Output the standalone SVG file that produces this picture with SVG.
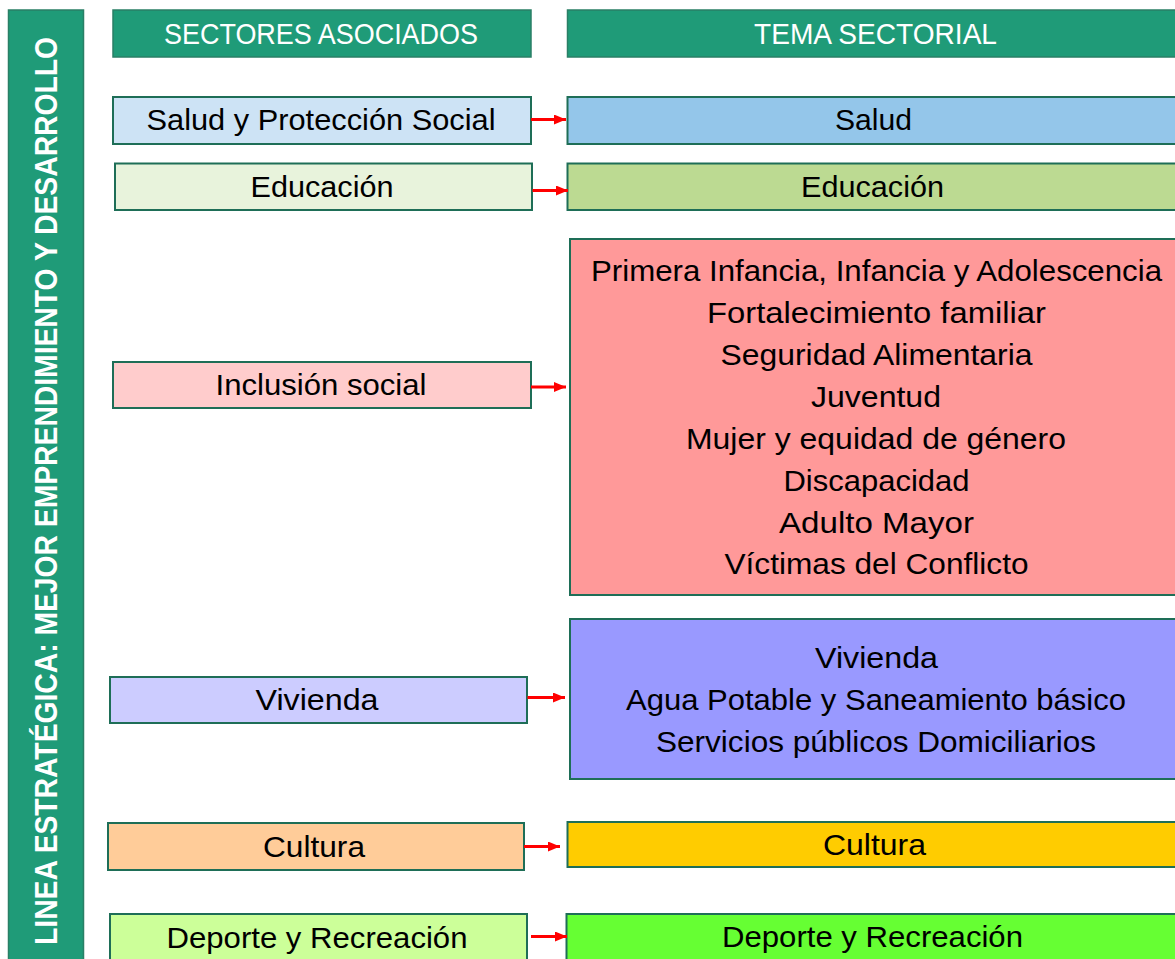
<svg xmlns="http://www.w3.org/2000/svg" width="1175" height="959" viewBox="0 0 1175 959">
<defs>
<style>
.hdr{fill:#1f9b78;stroke:#2a7f66;stroke-width:1.5}
.box{stroke:#1e6e57;stroke-width:2}
.t{font-family:"Liberation Sans",Arial,sans-serif;font-size:29px;fill:#000;text-anchor:middle}
.ht{font-family:"Liberation Sans",Arial,sans-serif;font-size:29px;fill:#fff;text-anchor:middle}
.bt{font-family:"Liberation Sans",Arial,sans-serif;font-size:28px;font-weight:bold;fill:#fff;text-anchor:middle}
.arr{stroke:#ff0000;stroke-width:3;fill:none}
</style>
<marker id="ah" markerWidth="12" markerHeight="10" refX="12" refY="5" orient="auto" markerUnits="userSpaceOnUse">
<path d="M0,0 L12,5 L0,10 Z" fill="#ff0000"/>
</marker>
</defs>
<rect width="1175" height="959" fill="#ffffff"/>

<g id="linea">
<rect class="hdr" x="8.5" y="10" width="75" height="960"/>
<text class="bt" transform="translate(57,491) rotate(-90) scale(1,1.14)" x="0" y="0" textLength="908" lengthAdjust="spacingAndGlyphs">LINEA ESTRATÉGICA: MEJOR EMPRENDIMIENTO Y DESARROLLO</text>
</g>

<g id="hdr-sectores">
<rect class="hdr" x="113" y="10" width="418" height="47"/>
<text class="ht" x="321" y="44" textLength="314" lengthAdjust="spacingAndGlyphs">SECTORES ASOCIADOS</text>
</g>
<g id="hdr-tema">
<rect class="hdr" x="567.5" y="10" width="620" height="47"/>
<text class="ht" x="875.5" y="44" textLength="243" lengthAdjust="spacingAndGlyphs">TEMA SECTORIAL</text>
</g>

<g id="s-salud">
<rect class="box" x="113" y="97" width="418" height="47" fill="#cde3f5"/>
<text class="t" x="321" y="130" textLength="349" lengthAdjust="spacingAndGlyphs">Salud y Protección Social</text>
</g>
<g id="t-salud">
<rect class="box" x="567.5" y="97" width="620" height="47" fill="#94c6ea"/>
<text class="t" x="873.5" y="130" textLength="77" lengthAdjust="spacingAndGlyphs">Salud</text>
</g>

<g id="s-educacion">
<rect class="box" x="115" y="163.5" width="417" height="46.5" fill="#e8f3dc"/>
<text class="t" x="322" y="197" textLength="143" lengthAdjust="spacingAndGlyphs">Educación</text>
</g>
<g id="t-educacion">
<rect class="box" x="567.5" y="163.5" width="620" height="46.5" fill="#bcda92"/>
<text class="t" x="872.5" y="197" textLength="143" lengthAdjust="spacingAndGlyphs">Educación</text>
</g>

<g id="s-inclusion">
<rect class="box" x="113" y="362" width="418" height="46" fill="#ffcccc"/>
<text class="t" x="321" y="395" textLength="211" lengthAdjust="spacingAndGlyphs">Inclusión social</text>
</g>
<g id="t-inclusion">
<rect class="box" x="570" y="239" width="620" height="356" fill="#ff9999"/>
<text class="t" x="876.5" y="281" textLength="571" lengthAdjust="spacingAndGlyphs">Primera Infancia, Infancia y Adolescencia</text>
<text class="t" x="876.5" y="323" textLength="339" lengthAdjust="spacingAndGlyphs">Fortalecimiento familiar</text>
<text class="t" x="876.5" y="365" textLength="312" lengthAdjust="spacingAndGlyphs">Seguridad Alimentaria</text>
<text class="t" x="876" y="407" textLength="130" lengthAdjust="spacingAndGlyphs">Juventud</text>
<text class="t" x="876" y="449" textLength="380" lengthAdjust="spacingAndGlyphs">Mujer y equidad de género</text>
<text class="t" x="876.5" y="491" textLength="186" lengthAdjust="spacingAndGlyphs">Discapacidad</text>
<text class="t" x="876.5" y="533" textLength="195" lengthAdjust="spacingAndGlyphs">Adulto Mayor</text>
<text class="t" x="876.5" y="574" textLength="304" lengthAdjust="spacingAndGlyphs">Víctimas del Conflicto</text>
</g>

<g id="s-vivienda">
<rect class="box" x="110" y="677" width="417" height="46" fill="#ccccff"/>
<text class="t" x="317" y="710" textLength="123" lengthAdjust="spacingAndGlyphs">Vivienda</text>
</g>
<g id="t-vivienda">
<rect class="box" x="570" y="619" width="620" height="160" fill="#9999ff"/>
<text class="t" x="876.5" y="668" textLength="123" lengthAdjust="spacingAndGlyphs">Vivienda</text>
<text class="t" x="876" y="710" textLength="500" lengthAdjust="spacingAndGlyphs">Agua Potable y Saneamiento básico</text>
<text class="t" x="876" y="752" textLength="440" lengthAdjust="spacingAndGlyphs">Servicios públicos Domiciliarios</text>
</g>

<g id="s-cultura">
<rect class="box" x="108" y="823" width="416" height="47" fill="#ffcc99"/>
<text class="t" x="314" y="857" textLength="102" lengthAdjust="spacingAndGlyphs">Cultura</text>
</g>
<g id="t-cultura">
<rect class="box" x="567.5" y="822" width="620" height="45" fill="#ffcc00"/>
<text class="t" x="874.5" y="855" textLength="103" lengthAdjust="spacingAndGlyphs">Cultura</text>
</g>

<g id="s-deporte">
<rect class="box" x="110" y="914" width="417" height="60" fill="#ccff99"/>
<text class="t" x="317" y="948" textLength="301" lengthAdjust="spacingAndGlyphs">Deporte y Recreación</text>
</g>
<g id="t-deporte">
<rect class="box" x="566.5" y="914" width="620" height="60" fill="#66ff33"/>
<text class="t" x="872.5" y="947" textLength="301" lengthAdjust="spacingAndGlyphs">Deporte y Recreación</text>
</g>

<g id="connectors">
<line class="arr" x1="531" y1="119.5" x2="566" y2="119.5" marker-end="url(#ah)"/>
<line class="arr" x1="532.5" y1="190.5" x2="568" y2="190.5" marker-end="url(#ah)"/>
<line class="arr" x1="531" y1="387" x2="566" y2="387" marker-end="url(#ah)"/>
<line class="arr" x1="527.5" y1="697.5" x2="565" y2="697.5" marker-end="url(#ah)"/>
<line class="arr" x1="524" y1="846.5" x2="560" y2="846.5" marker-end="url(#ah)"/>
<line class="arr" x1="531" y1="936.5" x2="567" y2="936.5" marker-end="url(#ah)"/>
</g>
</svg>
